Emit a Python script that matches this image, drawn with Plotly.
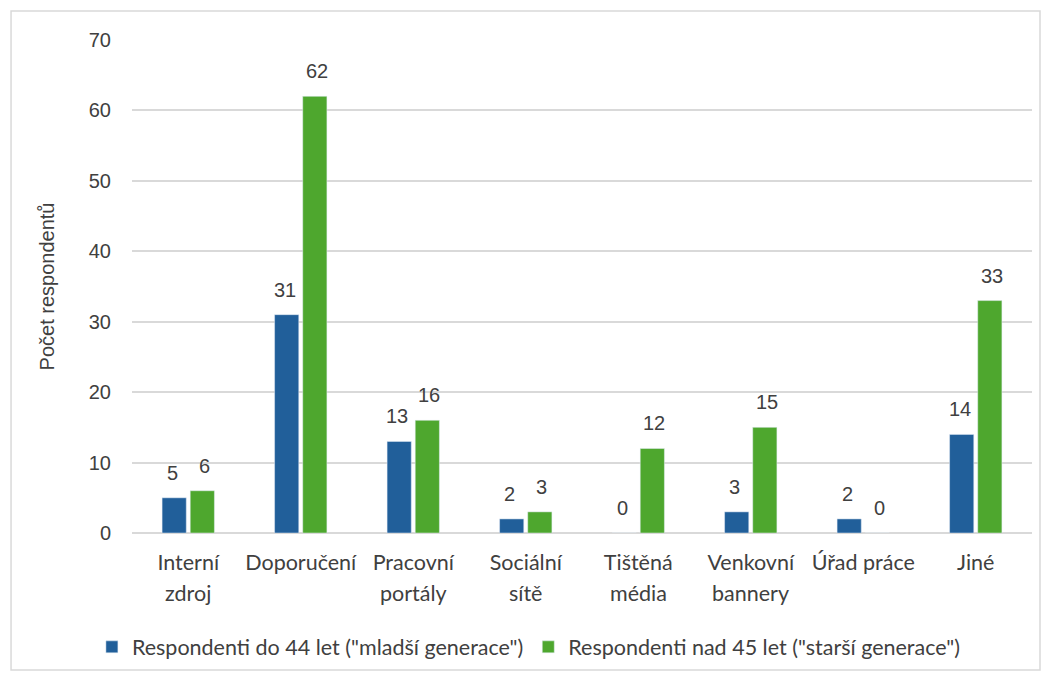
import plotly.graph_objects as go

categories = ["Interní zdroj", "Doporučení", "Pracovní portály", "Sociální sítě",
              "Tištěná média", "Venkovní bannery", "Úřad práce", "Jiné"]
line1 = ["Interní", "Doporučení", "Pracovní", "Sociální", "Tištěná", "Venkovní", "Úřad práce", "Jiné"]
line2 = ["zdroj", "", "portály", "sítě", "média", "bannery", "", ""]
younger = [5, 31, 13, 2, 0, 3, 2, 14]
older = [6, 62, 16, 3, 12, 15, 0, 33]
series_names = ['Respondenti do 44 let ("mladší generace")', 'Respondenti nad 45 let ("starší generace")']
yticks = [0, 10, 20, 30, 40, 50, 60, 70]

BLUE = "#215F9A"
GREEN = "#4EA72E"
TXT = "#404040"
NUMFONT = "Liberation Sans, Arial"
CATFONT = "Lato, sans-serif"

fig = go.Figure()
fig.add_trace(go.Bar(x=categories, y=younger, name=series_names[0], marker_color=BLUE))
fig.add_trace(go.Bar(x=categories, y=older, name=series_names[1], marker_color=GREEN))

ann = []
for vals, shift in ((younger, -16), (older, 16)):
    for c, v in zip(categories, vals):
        ann.append(dict(x=c, y=v, xref="x", yref="y", text=str(v), showarrow=False,
                        xshift=shift, yshift=25, yanchor="middle",
                        font=dict(family=NUMFONT, size=20, color=TXT)))
for c, t in zip(categories, line2):
    if t:
        ann.append(dict(x=c, y=0, xref="x", yref="y", text=t, showarrow=False,
                        yshift=-60, yanchor="middle",
                        font=dict(family=CATFONT, size=21.5, color=TXT)))

fig.update_layout(
    width=1048, height=679,
    margin=dict(l=132, r=16, t=40, b=146),
    paper_bgcolor="white", plot_bgcolor="white",
    barmode="group", bargap=0.5, bargroupgap=0.14,
    annotations=ann,
    showlegend=True,
    legend=dict(orientation="h", x=0.441, xanchor="center", y=-0.231, yanchor="middle",
                font=dict(family=CATFONT, size=21.5, color=TXT),
                itemwidth=30, tracegroupgap=0, traceorder="normal"),
    shapes=[dict(type="rect", xref="paper", yref="paper", x0=-0.1344, x1=1.0089,
                 y0=-0.2779, y1=1.0588, line=dict(color="#d9d9d9", width=1.5),
                 fillcolor="rgba(0,0,0,0)", layer="below")],
)
fig.update_xaxes(
    type="category", tickmode="array", tickvals=categories, ticktext=line1,
    showgrid=False, showline=False, ticks="", ticklabelstandoff=14,
    tickfont=dict(family=CATFONT, size=21.5, color=TXT),
)
fig.update_yaxes(
    range=[0, 70], tickvals=yticks, showgrid=True, gridcolor="#d9d9d9", gridwidth=1.5,
    zeroline=True, zerolinecolor="#d9d9d9", zerolinewidth=1.5, showline=False, ticks="",
    ticklabelstandoff=20,
    tickfont=dict(family=NUMFONT, size=20, color=TXT),
    title=dict(text="Počet respondentů", font=dict(family=NUMFONT, size=20, color=TXT),
               standoff=28),
)
fig.write_html("out.html")
